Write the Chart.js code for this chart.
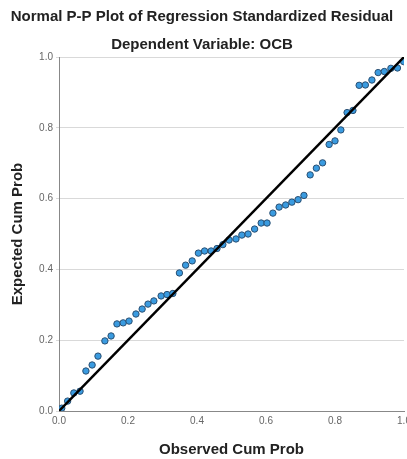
<!DOCTYPE html>
<html>
<head>
<meta charset="utf-8">
<script src="https://cdn.jsdelivr.net/npm/chart.js@4/dist/chart.umd.min.js"></script>
<style>
  html, body { margin: 0; padding: 0; background: #fff; overflow: hidden; width: 407px; height: 459px; }
  #wrap { width: 420px; height: 459px; }
</style>
</head>
<body>
<div id="wrap"><canvas id="chart"></canvas></div>
<script>
// observed vs expected cumulative probabilities
const observedCum = [
    0.008, 0.025, 0.043, 0.061, 0.078, 0.096, 0.113, 0.133, 0.151, 0.168,
    0.186, 0.203, 0.223, 0.241, 0.258, 0.275, 0.296, 0.313, 0.330, 0.349,
    0.367, 0.386, 0.404, 0.422, 0.441, 0.458, 0.475, 0.493, 0.513, 0.530,
    0.548, 0.567, 0.586, 0.603, 0.620, 0.638, 0.657, 0.675, 0.693, 0.710,
    0.728, 0.746, 0.764, 0.783, 0.800, 0.817, 0.835, 0.852, 0.870, 0.888,
    0.907, 0.925, 0.943, 0.962, 0.981, 0.999
];
const expectedCum = [
    0.008, 0.028, 0.051, 0.056, 0.113, 0.130, 0.155, 0.198, 0.212, 0.246,
    0.249, 0.254, 0.274, 0.288, 0.302, 0.311, 0.325, 0.329, 0.332, 0.390,
    0.412, 0.424, 0.446, 0.452, 0.452, 0.459, 0.470, 0.483, 0.486, 0.497,
    0.500, 0.514, 0.531, 0.531, 0.559, 0.576, 0.582, 0.590, 0.597, 0.609,
    0.667, 0.686, 0.701, 0.753, 0.763, 0.794, 0.843, 0.849, 0.920, 0.921,
    0.935, 0.956, 0.959, 0.968, 0.969, 0.987
];
const refLineX = [0, 1];
const refLineY = [0, 1];

const FONT = "'Liberation Sans', Arial, sans-serif";

const points = observedCum.map((x, i) => ({ x, y: expectedCum[i] }));
const refLine = refLineX.map((x, i) => ({ x, y: refLineY[i] }));

new Chart(document.getElementById('chart'), {
    type: 'scatter',
    data: {
        datasets: [
            {
                type: 'line',
                data: refLine,
                borderColor: '#000',
                borderWidth: 2.5,
                pointRadius: 0,
                fill: false,
                order: 0
            },
            {
                data: points,
                backgroundColor: '#3a9be0',
                borderColor: '#2a4f72',
                borderWidth: 1,
                pointRadius: 3.2,
                order: 1
            }
        ]
    },
    options: {
        responsive: true,
        maintainAspectRatio: false,
        animation: false,
        layout: { padding: { top: 0, right: 16, left: 0, bottom: 0 } },
        plugins: {
            legend: { display: false },
            tooltip: { enabled: false },
            title: {
                display: true,
                text: 'Normal P-P Plot of Regression Standardized Residual',
                color: '#222',
                font: { family: FONT, size: 15, weight: 'bold' },
                padding: { top: 8, bottom: 0 }
            },
            subtitle: {
                display: true,
                text: 'Dependent Variable: OCB',
                color: '#222',
                font: { family: FONT, size: 15, weight: 'bold' },
                padding: { top: 10, bottom: 3 }
            }
        },
        scales: {
            x: {
                type: 'linear',
                min: 0,
                max: 1,
                afterFit: (scale) => { scale.height = 48; },
                grid: { display: false, drawTicks: false },
                border: { display: true, color: '#888', width: 1 },
                ticks: {
                    stepSize: 0.2,
                    padding: 4,
                    color: '#666',
                    font: { family: FONT, size: 10 },
                    callback: (v) => Number(v).toFixed(1)
                },
                title: {
                    display: true,
                    text: 'Observed Cum Prob',
                    color: '#222',
                    font: { family: FONT, size: 15, weight: 'bold' },
                    padding: { top: 0, bottom: 0 }
                }
            },
            y: {
                type: 'linear',
                min: 0,
                max: 1,
                afterFit: (scale) => { scale.width = 59; },
                grid: { color: '#d9d9d9', lineWidth: 1, drawTicks: true, tickLength: 3 },
                border: { display: true, color: '#888', width: 1 },
                ticks: {
                    stepSize: 0.2,
                    padding: 3,
                    color: '#666',
                    font: { family: FONT, size: 10 },
                    callback: (v) => Number(v).toFixed(1)
                },
                title: {
                    display: true,
                    text: 'Expected Cum Prob',
                    color: '#222',
                    font: { family: FONT, size: 15, weight: 'bold' },
                    padding: { top: 9, bottom: 0 }
                }
            }
        }
    }
});
</script>
</body>
</html>
